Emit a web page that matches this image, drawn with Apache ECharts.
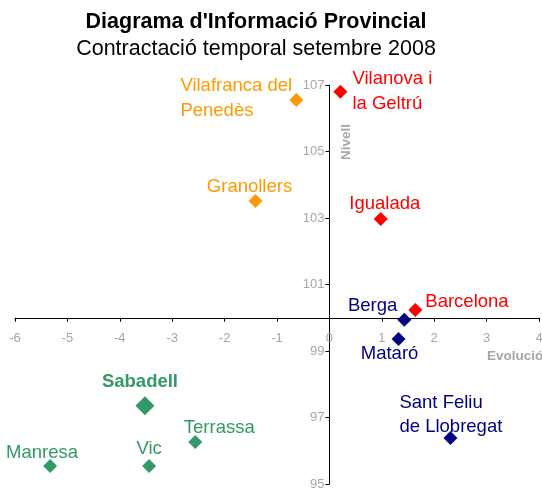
<!DOCTYPE html>
<html>
<head>
<meta charset="utf-8">
<script src="https://cdn.jsdelivr.net/npm/echarts@6/dist/echarts.min.js"></script>
<style>
html, body { margin: 0; padding: 0; background: #fff; }
#main { width: 542px; height: 491px; }
</style>
</head>
<body>
<div id="main"></div>
<script>
// dades llegides del gràfic (Evolució, Nivell)
var vermellNoms = ['Vilanova i\nla Geltrú', 'Igualada', 'Barcelona'];
var vermellX = [0.21, 0.98, 1.64];
var vermellY = [106.8, 102.97, 100.23];

var taronjaNoms = ['Vilafranca del\nPenedès', 'Granollers'];
var taronjaX = [-0.63, -1.41];
var taronjaY = [106.55, 103.51];

var blauNoms = ['Berga', 'Mataró', 'Sant Feliu\nde Llobregat'];
var blauX = [1.43, 1.32, 2.31];
var blauY = [99.94, 99.36, 96.38];

var verdNoms = ['Sabadell', 'Terrassa', 'Vic', 'Manresa'];
var verdX = [-3.52, -2.56, -3.44, -5.33];
var verdY = [97.35, 96.26, 95.54, 95.54];

var xTicks = [-6, -5, -4, -3, -2, -1, 0, 1, 2, 3, 4];
var yTicks = [95, 97, 99, 101, 103, 105, 107];

var font = 'Liberation Sans, Arial, sans-serif';

// on va cada etiqueta respecte al punt
var etiquetes = {
    'Vilanova i\nla Geltrú': { position: 'right', distance: 5, lineHeight: 25 },
    'Igualada': { position: 'top', distance: -2, offset: [4, 0] },
    'Barcelona': { position: 'right', distance: 3, offset: [0, -8] },
    'Vilafranca del\nPenedès': { position: [-109, 5], align: 'left', verticalAlign: 'middle', lineHeight: 25 },
    'Granollers': { position: 'top', distance: -3, offset: [-6, 0] },
    'Berga': { position: 'left', distance: 0, offset: [0, -14] },
    'Mataró': { position: 'bottom', distance: -2, offset: [-9, 0] },
    'Sant Feliu\nde Llobregat': { position: [-44, -16], align: 'left', verticalAlign: 'middle', lineHeight: 24 },
    'Sabadell': { position: 'top', distance: 4, offset: [-5, 0], fontWeight: 'bold' },
    'Terrassa': { position: 'top', distance: -3, offset: [24, 0] },
    'Vic': { position: 'top', distance: 0 },
    'Manresa': { position: 'top', distance: -4, offset: [-8, 0] }
};

function serie(noms, xs, ys, color) {
    return {
        type: 'scatter',
        symbol: 'diamond',
        symbolSize: 14,
        itemStyle: { color: color, opacity: 1 },
        label: {
            show: true,
            color: color,
            fontSize: 18.5,
            lineHeight: 20,
            fontFamily: font,
            formatter: function (p) { return p.name; }
        },
        data: noms.map(function (n, i) {
            var d = { name: n, value: [xs[i], ys[i]], label: etiquetes[n] };
            if (n === 'Sabadell') d.symbolSize = 19;
            return d;
        })
    };
}

var chart = echarts.init(document.getElementById('main'));
chart.setOption({
    animation: false,
    title: {
        text: "Diagrama d'Informació Provincial",
        subtext: 'Contractació temporal setembre 2008',
        left: 251,
        top: 6,
        textAlign: 'center',
        itemGap: 5,
        textStyle: { fontFamily: font, fontSize: 21.5, fontWeight: 'bold', color: '#000' },
        subtextStyle: { fontFamily: font, fontSize: 21.5, color: '#000' }
    },
    grid: { left: 15, right: 3, top: 85, bottom: 7, outerBoundsMode: 'none' },
    xAxis: {
        type: 'value',
        min: xTicks[0],
        max: xTicks[xTicks.length - 1],
        interval: 1,
        axisLine: { show: true, onZero: false, lineStyle: { color: '#000' } },
        axisTick: { show: true, length: 4, lineStyle: { color: '#000' } },
        axisLabel: { color: '#a6a6a6', fontSize: 13, fontFamily: font, margin: 14 },
        splitLine: { show: false }
    },
    yAxis: {
        type: 'value',
        min: yTicks[0],
        max: yTicks[yTicks.length - 1],
        interval: 2,
        axisLine: { show: true, onZero: false, lineStyle: { color: '#000' } },
        axisTick: { show: true, length: 4, lineStyle: { color: '#000' } },
        axisLabel: { color: '#a6a6a6', fontSize: 13, fontFamily: font, margin: 5 },
        splitLine: { show: false }
    },
    graphic: [
        {
            type: 'text',
            x: 346, y: 142,
            rotation: Math.PI / 2,
            style: {
                text: 'Nivell', fill: '#a6a6a6', font: 'bold 13.5px ' + font,
                align: 'center', verticalAlign: 'middle'
            }
        },
        {
            type: 'text',
            left: 487, top: 349,
            style: { text: 'Evolució', fill: '#a6a6a6', font: 'bold 13.5px ' + font }
        }
    ],
    series: [
        serie(vermellNoms, vermellX, vermellY, '#ff0000'),
        serie(taronjaNoms, taronjaX, taronjaY, '#ff9900'),
        serie(blauNoms, blauX, blauY, '#000080'),
        serie(verdNoms, verdX, verdY, '#339966')
    ]
});

// els eixos es creuen a (0, 100)
var y100 = chart.convertToPixel({ yAxisIndex: 0 }, 100);
var yBaix = chart.convertToPixel({ yAxisIndex: 0 }, yTicks[0]);
var x0 = chart.convertToPixel({ xAxisIndex: 0 }, 0);
var xEsq = chart.convertToPixel({ xAxisIndex: 0 }, xTicks[0]);
chart.setOption({
    xAxis: { offset: y100 - yBaix },
    yAxis: { offset: xEsq - x0 }
});
</script>
</body>
</html>
